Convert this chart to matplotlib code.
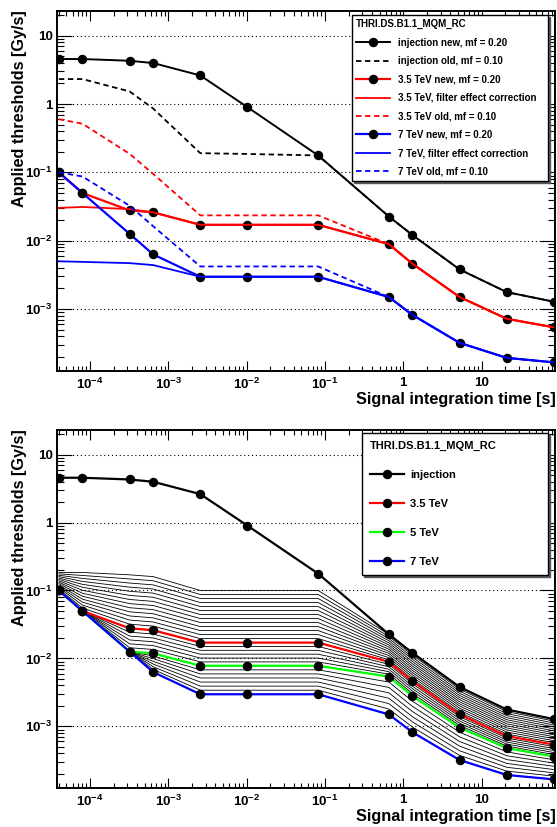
import numpy as np
import matplotlib
matplotlib.use("Agg")
import matplotlib.pyplot as plt
from matplotlib.ticker import FixedLocator, LogLocator, NullFormatter

plt.rcParams['font.family'] = 'Liberation Sans'
plt.rcParams['font.weight'] = 'bold'
plt.rcParams['mathtext.fontset'] = 'custom'
plt.rcParams['mathtext.rm'] = 'Liberation Sans:bold'
plt.rcParams['mathtext.bf'] = 'Liberation Sans:bold'

# running sum integration times [s]
t_int = [4e-5, 8e-5, 3.2e-4, 6.4e-4, 2.56e-3, 1.024e-2, 8.192e-2,
         0.655, 1.311, 5.243, 20.97, 83.89]

# thresholds [Gy/s]
inj_new = [4.56, 4.56, 4.3, 3.98, 2.62, 0.90, 0.177, 0.0226, 0.0121, 0.0038, 0.00177, 0.00128]
inj_old = [2.32, 2.32, 1.53, 0.86, 0.191, 0.186, 0.177, 0.0226, 0.0121, 0.0038, 0.00177, 0.00128]
te35_new = [0.1, 0.0499, 0.0278, 0.026, 0.0171, 0.0171, 0.0171, 0.0089, 0.0046, 0.0015, 7.2e-4, 5.4e-4]
te35_filt = [0.0302, 0.0312, 0.029, 0.026, 0.0171, 0.0171, 0.0171, 0.0089, 0.0046, 0.0015, 7.2e-4, 5.4e-4]
te35_old = [0.60, 0.515, 0.187, 0.095, 0.0235, 0.0235, 0.0235, 0.0089, 0.0046, 0.0015, 7.2e-4, 5.4e-4]
te5 = [0.1, 0.0499, 0.0126, 0.0119, 0.0078, 0.0078, 0.0078, 0.0054, 0.0028, 9.6e-4, 4.8e-4, 3.6e-4]
te7_new = [0.1, 0.0499, 0.0126, 0.0063, 0.00297, 0.00297, 0.00297, 0.0015, 8.2e-4, 3.2e-4, 1.93e-4, 1.66e-4]
te7_filt = [0.005, 0.0049, 0.0047, 0.0044, 0.00297, 0.00297, 0.00297, 0.0015, 8.2e-4, 3.2e-4, 1.93e-4, 1.66e-4]
te7_old = [0.1, 0.087, 0.0325, 0.0163, 0.0042, 0.0042, 0.0042, 0.0015, 8.2e-4, 3.2e-4, 1.93e-4, 1.66e-4]
band_top = [0.184, 0.184, 0.17, 0.16, 0.1, 0.1, 0.1, 0.0226, 0.0121, 0.0038, 0.00177, 0.00128]

# number of intermediate energy curves between the anchor curves of the band
band_steps = [13, 6, 7]

x_ticks = [1e-4, 1e-3, 1e-2, 1e-1, 1, 10]
x_ticklabels = [r'$\mathbf{10^{-4}}$', r'$\mathbf{10^{-3}}$', r'$\mathbf{10^{-2}}$',
                r'$\mathbf{10^{-1}}$', '1', '10']
y_ticks = [1e-3, 1e-2, 1e-1, 1, 10]
y_ticklabels = [r'$\mathbf{10^{-3}}$', r'$\mathbf{10^{-2}}$', r'$\mathbf{10^{-1}}$', '1', '10']

W, H = 557, 827
fig = plt.figure(figsize=(W / 100, H / 100), dpi=100)


def px_axes(left, top, right, bottom):
    return fig.add_axes([left / W, 1 - bottom / H, (right - left) / W, (bottom - top) / H])


def style_axes(ax):
    ax.set_xscale('log')
    ax.set_yscale('log')
    ax.set_xlim(3.73e-5, 86.7)
    ax.set_ylim(1.24e-4, 23.0)
    ax.xaxis.set_major_locator(FixedLocator(x_ticks))
    ax.set_xticklabels(x_ticklabels)
    ax.yaxis.set_major_locator(FixedLocator(y_ticks))
    ax.set_yticklabels(y_ticklabels)
    ax.xaxis.set_minor_locator(LogLocator(base=10, subs=np.arange(2, 10), numticks=20))
    ax.yaxis.set_minor_locator(LogLocator(base=10, subs=np.arange(2, 10), numticks=20))
    ax.xaxis.set_minor_formatter(NullFormatter())
    ax.yaxis.set_minor_formatter(NullFormatter())
    ax.tick_params(which='both', direction='in', top=True, right=True, width=0.8,
                   labelsize=9.6)
    ax.tick_params(axis='x', which='major', length=7, pad=4.5)
    ax.tick_params(axis='x', which='minor', length=3.8)
    ax.tick_params(axis='y', which='major', length=10.5, pad=2.8)
    ax.tick_params(axis='y', which='minor', length=5.2)
    ax.yaxis.grid(True, which='major', linestyle=(0, (1, 2.5)), color='black', lw=0.8)
    for s in ax.spines.values():
        s.set_linewidth(1.4)


def axis_titles(top, bottom):
    fig.text(19.5 / W, 1 - (top - 1) / H, 'Applied thresholds [Gy/s]', rotation=90,
             ha='center', va='top', fontsize=11.7, fontweight='bold')
    fig.text(556 / W, 1 - (bottom + 21) / H, 'Signal integration time [s]',
             ha='right', va='top', fontsize=11.7, fontweight='bold')


mk = dict(marker='o', markersize=5.8, markerfacecolor='black', markeredgecolor='black')
dash = (0, (3, 2))
shadow = {'ox': 1.5, 'oy': -1.5, 'facecolor': '0.35', 'edgecolor': '0.35', 'alpha': 1}

# ---------------- top panel ----------------
ax1 = px_axes(56.5, 11, 555, 371)
style_axes(ax1)
ax1.plot(t_int, inj_new, color='black', lw=1.4, label='injection new, mf = 0.20', **mk)
ax1.plot(t_int, inj_old, color='black', lw=1.3, ls=dash, label='injection old, mf = 0.10')
ax1.plot(t_int, te35_new, color='red', lw=1.6, label='3.5 TeV new, mf = 0.20', **mk)
ax1.plot(t_int, te35_filt, color='red', lw=1.3, label='3.5 TeV, filter effect correction')
ax1.plot(t_int, te35_old, color='red', lw=1.3, ls=dash, label='3.5 TeV old, mf = 0.10')
ax1.plot(t_int, te7_new, color='blue', lw=1.6, label='7 TeV new, mf = 0.20', **mk)
ax1.plot(t_int, te7_filt, color='blue', lw=1.3, label='7 TeV, filter effect correction')
ax1.plot(t_int, te7_old, color='blue', lw=1.3, ls=dash, label='7 TeV old, mf = 0.10')
ax1.legend(loc='upper left', mode='expand',
           bbox_to_anchor=(352 / W, 1 - 180 / H, 196 / W, 165 / H),
           bbox_transform=fig.transFigure, borderaxespad=0,
           title='THRI.DS.B1.1_MQM_RC', title_fontproperties={'size': 7, 'weight': 'bold'},
           alignment='left', fontsize=7, numpoints=1, handlelength=3.5,
           handletextpad=0.8, labelspacing=0.86, borderpad=0.45,
           fancybox=False, framealpha=1, edgecolor='black', shadow=shadow)
axis_titles(11, 371)

# ---------------- bottom panel ----------------
ax2 = px_axes(56.5, 430, 555, 788)
style_axes(ax2)
anchors = [band_top, te35_new, te5, te7_new]
for a, b, n in zip(anchors[:-1], anchors[1:], band_steps):
    la, lb = np.log10(a), np.log10(b)
    for k in range(n + 1):
        ax2.plot(t_int, 10 ** (la + (lb - la) * k / n), color='black', lw=0.6)
ax2.plot(t_int, inj_new, color='black', lw=1.6, label='injection', **mk)
ax2.plot(t_int, te35_new, color='red', lw=1.6, label='3.5 TeV', **mk)
ax2.plot(t_int, te5, color='#00ff00', lw=1.6, label='5 TeV', **mk)
ax2.plot(t_int, te7_new, color='blue', lw=1.6, label='7 TeV', **mk)
ax2.legend(loc='upper left', mode='expand',
           bbox_to_anchor=(362 / W, 1 - 574 / H, 186 / W, 141 / H),
           bbox_transform=fig.transFigure, borderaxespad=0,
           title='THRI.DS.B1.1_MQM_RC', title_fontproperties={'size': 8, 'weight': 'bold'},
           alignment='left', fontsize=8, numpoints=1, handlelength=3.0,
           handletextpad=0.55, labelspacing=1.69, borderpad=0.75,
           fancybox=False, framealpha=1, edgecolor='black', shadow=shadow)
axis_titles(430, 788)

fig.savefig('out.png', dpi=100)
